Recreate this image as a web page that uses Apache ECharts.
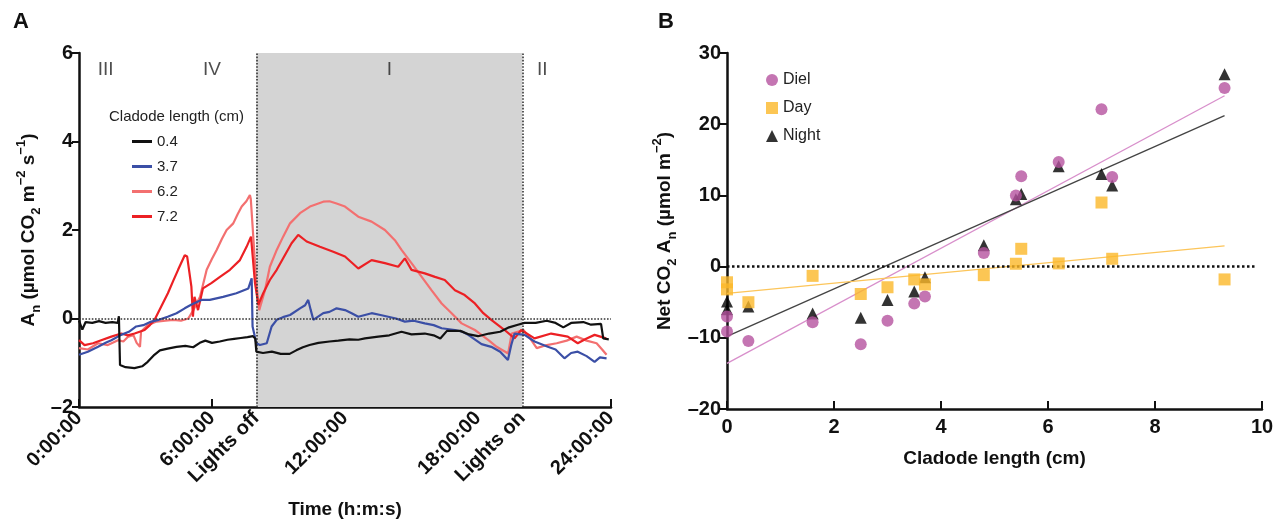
<!DOCTYPE html>
<html><head><meta charset="utf-8">
<script src="https://cdn.jsdelivr.net/npm/echarts@6/dist/echarts.min.js"></script>
<style>html,body{margin:0;padding:0;background:#fff}#c{width:1282px;height:527px}</style>
</head><body><div id="c"></div>
<script>
// ---------- Panel A: time courses (hour, An) ----------
var s04 = [[0,-0.05],[0.15,-0.25],[0.3,-0.08],[0.6,-0.1],[0.9,-0.06],[1.2,-0.1],[1.5,-0.08],[1.75,-0.1],[1.8,0.05],[1.85,-1.05],[2.1,-1.1],[2.5,-1.12],[2.85,-1.08],[3.1,-0.98],[3.4,-0.82],[3.65,-0.72],[4.0,-0.68],[4.4,-0.64],[4.8,-0.62],[5.15,-0.65],[5.45,-0.55],[5.7,-0.5],[6.0,-0.55],[6.35,-0.52],[6.7,-0.48],[7.0,-0.46],[7.3,-0.44],[7.6,-0.42],[7.85,-0.40],[7.95,-0.45],[8.0,-0.75],[8.3,-0.78],[8.7,-0.75],[9.1,-0.8],[9.5,-0.8],[9.8,-0.72],[10.1,-0.65],[10.4,-0.6],[10.8,-0.55],[11.3,-0.52],[11.7,-0.5],[12.2,-0.47],[12.6,-0.48],[12.9,-0.45],[13.5,-0.41],[14.0,-0.38],[14.55,-0.3],[15.0,-0.36],[15.6,-0.34],[16.0,-0.38],[16.3,-0.45],[16.6,-0.28],[17.2,-0.28],[17.6,-0.36],[18.0,-0.4],[18.5,-0.34],[19.0,-0.3],[19.4,-0.2],[19.8,-0.14],[20.1,-0.1],[20.6,-0.1],[21.1,-0.05],[21.5,-0.1],[21.85,-0.2],[22.2,-0.1],[22.75,-0.08],[23.1,-0.14],[23.55,-0.12],[23.65,-0.45],[23.9,-0.47]];
var s37 = [[0,-0.82],[0.4,-0.75],[0.86,-0.64],[1.2,-0.55],[1.46,-0.49],[1.9,-0.37],[2.25,-0.3],[2.58,-0.18],[2.9,-0.15],[3.26,-0.07],[3.6,-0.03],[4.0,0.04],[4.4,0.12],[4.77,0.23],[5.1,0.32],[5.52,0.42],[5.9,0.42],[6.5,0.49],[7.1,0.57],[7.64,0.68],[7.79,0.91],[7.83,-0.18],[8.0,-0.56],[8.16,-0.6],[8.47,-0.56],[8.69,-0.18],[8.92,-0.03],[9.2,0.03],[9.52,0.08],[9.97,0.23],[10.2,0.3],[10.34,0.42],[10.45,0.2],[10.57,-0.03],[11.02,0.12],[11.3,0.15],[11.62,0.23],[12.0,0.19],[12.3,0.12],[12.6,0.04],[13.2,0.12],[13.6,0.08],[13.95,0.04],[14.3,0.0],[14.7,-0.07],[15.1,-0.05],[15.6,-0.11],[16.0,-0.15],[16.36,-0.22],[16.96,-0.26],[17.3,-0.3],[17.56,-0.37],[18.16,-0.58],[18.6,-0.64],[19.0,-0.75],[19.35,-0.94],[19.5,-0.6],[19.65,-0.34],[20.1,-0.37],[20.55,-0.52],[21.15,-0.64],[21.5,-0.7],[21.9,-0.9],[22.2,-0.78],[22.5,-0.75],[22.9,-0.85],[23.26,-0.98],[23.5,-0.88],[23.8,-0.9]];
var s62 = [[0,-0.67],[0.4,-0.7],[0.86,-0.56],[1.3,-0.6],[1.76,-0.49],[2.0,-0.52],[2.2,-0.42],[2.45,-0.37],[2.6,-0.55],[2.75,-0.64],[2.8,-0.3],[3.1,-0.15],[3.5,-0.07],[3.9,-0.05],[4.26,-0.03],[4.6,-0.05],[4.93,0.0],[5.16,0.19],[5.46,0.49],[5.76,1.1],[6.0,1.35],[6.21,1.55],[6.45,1.8],[6.66,2.0],[6.96,2.15],[7.15,2.35],[7.34,2.53],[7.55,2.65],[7.71,2.79],[7.75,2.7],[8.0,0.8],[8.13,0.19],[8.39,0.64],[8.61,1.17],[8.92,1.55],[9.21,1.85],[9.52,2.15],[9.97,2.38],[10.42,2.53],[11.02,2.64],[11.3,2.65],[11.62,2.6],[12.0,2.53],[12.6,2.3],[13.2,2.19],[13.8,2.0],[14.25,1.77],[14.55,1.55],[15.0,1.25],[15.46,0.94],[15.9,0.64],[16.36,0.34],[16.81,0.12],[17.26,-0.11],[17.86,-0.26],[18.08,-0.34],[18.5,-0.5],[18.84,-0.64],[19.36,-0.79],[19.52,-0.34],[20.05,-0.26],[20.35,-0.45],[20.65,-0.67],[21.1,-0.6],[21.55,-0.56],[22.0,-0.5],[22.45,-0.41],[22.9,-0.5],[23.35,-0.56],[23.6,-0.7],[23.8,-0.82]];
var s72 = [[0,-0.49],[0.25,-0.6],[0.63,-0.56],[1.0,-0.49],[1.46,-0.41],[1.91,-0.34],[2.2,-0.38],[2.51,-0.34],[2.96,-0.26],[3.2,-0.15],[3.41,-0.03],[3.71,0.27],[4.01,0.57],[4.25,0.85],[4.47,1.1],[4.77,1.43],[4.88,1.4],[5.07,0.72],[5.14,0.04],[5.21,0.49],[5.37,0.19],[5.59,0.68],[5.97,0.8],[6.36,0.94],[6.81,1.1],[7.26,1.32],[7.56,1.62],[7.76,1.85],[7.94,0.8],[8.09,0.31],[8.31,0.57],[8.61,0.87],[8.92,1.1],[9.21,1.36],[9.59,1.7],[9.89,1.89],[10.27,1.74],[10.87,1.62],[11.47,1.51],[12.0,1.4],[12.6,1.13],[13.2,1.32],[13.8,1.25],[14.4,1.17],[14.7,1.36],[15.0,1.1],[15.6,1.02],[16.06,0.94],[16.5,0.87],[16.96,0.64],[17.4,0.53],[17.86,0.34],[18.24,0.12],[18.6,-0.03],[19.2,-0.26],[19.65,-0.45],[19.95,-0.26],[20.55,-0.45],[21.3,-0.34],[22.05,-0.41],[22.5,-0.56],[22.9,-0.45],[23.26,-0.37],[23.78,-0.45]];
var lengthNames = ['0.4','3.7','6.2','7.2'];
var timeTickValues = [0,6,12,18,24];
var timeLabelValues = [0,6,8,12,18,20,24];
var lightsOff = 8, lightsOn = 20;
var phaseLabels = ['III','IV','I','II'];
var phaseX = [1.2, 6.0, 14.0, 20.9];
var phaseY = 5.62;

// ---------- Panel B: net CO2 vs cladode length ----------
var dielX = [0,0,0.4,1.6,2.5,3.0,3.5,3.7,4.8,5.4,5.5,6.2,7.0,7.2,9.3];
var dielY = [-7.0,-9.1,-10.45,-7.8,-10.9,-7.6,-5.2,-4.2,1.9,10.0,12.7,14.7,22.1,12.6,25.1];
var dayX = [0,0,0.4,1.6,2.5,3.0,3.5,3.7,4.8,5.4,5.5,6.2,7.0,7.2,9.3];
var dayY = [-2.2,-3.2,-5.0,-1.3,-3.85,-2.9,-1.8,-2.5,-1.2,0.4,2.5,0.45,9.0,1.1,-1.8];
var nightX = [0,0,0.4,1.6,2.5,3.0,3.5,3.7,4.8,5.4,5.5,6.2,7.0,7.2,9.3];
var nightY = [-4.9,-6.0,-5.6,-6.6,-7.2,-4.7,-3.5,-1.5,3.0,9.45,10.2,14.1,13.0,11.4,27.0];
var dielFit = [[0,-13.6],[9.3,24.0]];
var dayFit = [[0,-3.75],[9.3,2.9]];
var nightFit = [[0,-9.8],[9.3,21.2]];

function zip(xs, ys){ return xs.map(function(x,i){ return [x, ys[i]]; }); }
var FONT = '"Liberation Sans", Arial, Helvetica, sans-serif';
var minus = function(v){ return String(v).replace('-', '\u2013'); };

var chart = echarts.init(document.getElementById('c'), null, {renderer:'canvas'});
var axisLineStyle = {color:'#111', width:2.5};
var tickLabelStyle = {color:'#111', fontFamily:FONT, fontWeight:'bold', fontSize:20};

var option = {
  animation:false,
  backgroundColor:'#fff',
  textStyle:{fontFamily:FONT},
  title:[
    {text:'A', left:8, top:6, textStyle:{fontSize:22, fontWeight:'bold', color:'#111', fontFamily:FONT}},
    {text:'B', left:653, top:6, textStyle:{fontSize:22, fontWeight:'bold', color:'#111', fontFamily:FONT}},
    {text:'Cladode length (cm)', left:104, top:104, textStyle:{fontSize:15, fontWeight:'normal', color:'#222', fontFamily:FONT}}
  ],
  legend:[
    {data:lengthNames, orient:'vertical', left:127, top:129, icon:'rect', itemWidth:20, itemHeight:3, itemGap:10,
     textStyle:{fontSize:15, color:'#222', fontFamily:FONT}},
    {data:['Diel','Day','Night'], orient:'vertical', left:761, top:67, itemWidth:12, itemHeight:12, itemGap:12,
     textStyle:{fontSize:16, color:'#222', fontFamily:FONT}}
  ],
  grid:[
    {left:79, right:671, top:53, bottom:120, containLabel:false},
    {left:727, right:20, top:53, bottom:118, containLabel:false}
  ],
  xAxis:[
    {gridIndex:0, type:'value', min:0, max:24, interval:6,
     name:'Time (h:m:s)', nameLocation:'middle', nameGap:93,
     nameTextStyle:{fontSize:19, fontWeight:'bold', color:'#111', fontFamily:FONT},
     axisLine:{onZero:false, lineStyle:axisLineStyle},
     axisTick:{inside:true, length:8, lineStyle:{color:'#111', width:2}, customValues:timeTickValues},
     axisLabel:Object.assign({rotate:45, margin:8, customValues:timeLabelValues,
       formatter:function(v){ if(v===lightsOff) return 'Lights off'; if(v===lightsOn) return 'Lights on'; return v+':00:00'; }}, tickLabelStyle),
     splitLine:{show:false}},
    {gridIndex:1, type:'value', min:0, max:10, interval:2,
     name:'Cladode length (cm)', nameLocation:'middle', nameGap:40,
     nameTextStyle:{fontSize:19, fontWeight:'bold', color:'#111', fontFamily:FONT},
     axisLine:{onZero:false, lineStyle:axisLineStyle},
     axisTick:{inside:true, length:8, lineStyle:{color:'#111', width:2}},
     axisLabel:Object.assign({margin:8}, tickLabelStyle),
     splitLine:{show:false}}
  ],
  yAxis:[
    {gridIndex:0, type:'value', min:-2, max:6, interval:2,
     name:'{m|A}{b|n}{m| (µmol CO}{b|2}{m| m}{t|\u22122}{m| s}{t|\u22121}{m|)}', nameLocation:'middle', nameGap:36,
     nameTextStyle:{rich:{
       m:{fontSize:19, fontWeight:'bold', color:'#111', fontFamily:FONT, lineHeight:28},
       b:{fontSize:13, fontWeight:'bold', color:'#111', fontFamily:FONT, lineHeight:15, verticalAlign:'bottom'},
       t:{fontSize:13, fontWeight:'bold', color:'#111', fontFamily:FONT, lineHeight:15, verticalAlign:'top'}}},
     axisLine:{onZero:false, lineStyle:axisLineStyle},
     axisTick:{inside:false, length:7, lineStyle:{color:'#111', width:2}},
     axisLabel:Object.assign({margin:6, formatter:minus}, tickLabelStyle),
     splitLine:{show:false}},
    {gridIndex:1, type:'value', min:-20, max:30, interval:10,
     name:'{m|Net CO}{b|2}{m| A}{b|n}{m| (µmol m}{t|\u22122}{m|)}', nameLocation:'middle', nameGap:48,
     nameTextStyle:{rich:{
       m:{fontSize:19, fontWeight:'bold', color:'#111', fontFamily:FONT, lineHeight:28},
       b:{fontSize:13, fontWeight:'bold', color:'#111', fontFamily:FONT, lineHeight:15, verticalAlign:'bottom'},
       t:{fontSize:13, fontWeight:'bold', color:'#111', fontFamily:FONT, lineHeight:15, verticalAlign:'top'}}},
     axisLine:{onZero:false, lineStyle:axisLineStyle},
     axisTick:{inside:false, length:7, lineStyle:{color:'#111', width:2}},
     axisLabel:Object.assign({margin:6, formatter:minus}, tickLabelStyle),
     splitLine:{show:false}}
  ],
  series:[
    {name:'0.4', type:'line', xAxisIndex:0, yAxisIndex:0, data:s04, showSymbol:false, color:'#111',
     lineStyle:{width:2.2, color:'#111'}, z:5,
     markArea:{silent:true, itemStyle:{color:'#d4d4d4'}, data:[[{xAxis:lightsOff},{xAxis:lightsOn}]]},
     markLine:{silent:true, symbol:'none', label:{show:false}, animation:false,
       lineStyle:{type:'dotted', color:'#333', width:1.6},
       data:[{xAxis:lightsOff},{xAxis:lightsOn},{yAxis:0}]}},
    {name:'3.7', type:'line', xAxisIndex:0, yAxisIndex:0, data:s37, showSymbol:false, color:'#3b4fa6',
     lineStyle:{width:2.2, color:'#3b4fa6'}, z:4},
    {name:'6.2', type:'line', xAxisIndex:0, yAxisIndex:0, data:s62, showSymbol:false, color:'#f37070',
     lineStyle:{width:2.2, color:'#f37070'}, z:3},
    {name:'7.2', type:'line', xAxisIndex:0, yAxisIndex:0, data:s72, showSymbol:false, color:'#ec2024',
     lineStyle:{width:2.2, color:'#ec2024'}, z:3},
    {name:'phases', type:'scatter', xAxisIndex:0, yAxisIndex:0, symbolSize:0, silent:true,
     data:phaseX.map(function(x,i){ return {value:[x, phaseY], name:phaseLabels[i]}; }),
     label:{show:true, position:'inside', formatter:'{b}', fontSize:19, color:'#222', fontFamily:FONT}},
    // Panel B
    {name:'dielFit', type:'line', xAxisIndex:1, yAxisIndex:1, data:dielFit, showSymbol:false, silent:true,
     lineStyle:{width:1.3, color:'#d88fcb'}, z:2,
     markLine:{silent:true, symbol:'none', label:{show:false}, lineStyle:{type:'dotted', color:'#111', width:2.5},
       data:[[{coord:[0,0]},{coord:[9.9,0]}]]}},
    {name:'nightFit', type:'line', xAxisIndex:1, yAxisIndex:1, data:nightFit, showSymbol:false, silent:true,
     lineStyle:{width:1.3, color:'#444'}, z:2},
    {name:'dayFit', type:'line', xAxisIndex:1, yAxisIndex:1, data:dayFit, showSymbol:false, silent:true,
     lineStyle:{width:1.3, color:'#fcc55a'}, z:2},
    {name:'Night', type:'scatter', xAxisIndex:1, yAxisIndex:1, data:zip(nightX, nightY), symbol:'triangle', symbolSize:12,
     itemStyle:{color:'#000'}, z:3},
    {name:'Diel', type:'scatter', xAxisIndex:1, yAxisIndex:1, data:zip(dielX, dielY), symbol:'circle', symbolSize:12,
     itemStyle:{color:'#b5529f'}, z:4},
    {name:'Day', type:'scatter', xAxisIndex:1, yAxisIndex:1, data:zip(dayX, dayY), symbol:'rect', symbolSize:12,
     itemStyle:{color:'#fbb829'}, z:5}
  ]
};
chart.setOption(option);
</script></body></html>
